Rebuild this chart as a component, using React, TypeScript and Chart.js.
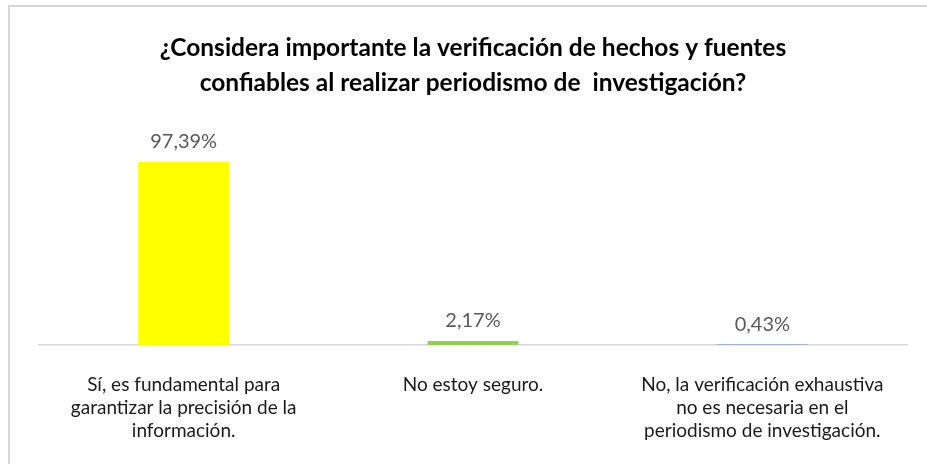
import React, { useEffect, useRef } from "react";
import { Chart, registerables } from "chart.js";

Chart.register(...registerables);

const TITLE_LINES = [
  "¿Considera importante la verificación de hechos y fuentes",
  "confiables al realizar periodismo de  investigación?",
];
const CATEGORIES: string[][] = [
  ["Sí, es fundamental para", "garantizar la precisión de la", "información."],
  ["No estoy seguro."],
  ["No, la verificación exhaustiva", "no es necesaria en el", "periodismo de investigación."],
];
const VALUES = [97.39, 2.17, 0.43];
const BAR_COLORS = ["#FFFF00", "#92D050", "#8FAADC"];

const FONT = "Lato, 'Open Sans', sans-serif";

const frame = {
  id: "frame",
  beforeDraw(chart: any) {
    const ctx = chart.ctx;
    ctx.save();
    ctx.fillStyle = "#ffffff";
    ctx.fillRect(0, 0, chart.width, chart.height);
    ctx.strokeStyle = "#d6d6d6";
    ctx.lineWidth = 2;
    ctx.beginPath();
    ctx.moveTo(9, chart.height);
    ctx.lineTo(9, 6);
    ctx.lineTo(chart.width, 6);
    ctx.stroke();
    ctx.restore();
  },
};

const valueLabels = {
  id: "valueLabels",
  afterDatasetsDraw(chart: any) {
    const ctx = chart.ctx;
    const meta = chart.getDatasetMeta(0);
    ctx.save();
    ctx.font = `20px ${FONT}`;
    ctx.fillStyle = "#595959";
    ctx.textAlign = "center";
    ctx.textBaseline = "middle";
    meta.data.forEach((bar: any, i: number) => {
      const txt = VALUES[i].toFixed(2).replace(".", ",") + "%";
      ctx.fillText(txt, bar.x, bar.y - 20);
    });
    ctx.restore();
  },
};

export default function App() {
  const ref = useRef<HTMLCanvasElement | null>(null);
  useEffect(() => {
    if (!ref.current) return;
    const chart = new Chart(ref.current, {
      type: "bar",
      data: {
        labels: CATEGORIES,
        datasets: [
          {
            data: VALUES,
            backgroundColor: BAR_COLORS,
            barPercentage: 0.314,
            categoryPercentage: 1,
          },
        ],
      },
      options: {
        animation: false,
        responsive: false,
        layout: { padding: { left: 39, right: 20, top: 0, bottom: 0 } },
        plugins: {
          legend: { display: false },
          tooltip: { enabled: false },
          title: {
            display: true,
            text: TITLE_LINES,
            color: "#000000",
            font: { family: FONT, size: 24.5, weight: "bold", lineHeight: 35 / 24.5 },
            padding: { top: 31, bottom: 56 },
          },
        },
        scales: {
          x: {
            grid: { display: false, drawTicks: false, tickLength: 0 },
            border: { display: true, color: "#d9d9d9", width: 1.5 },
            ticks: {
              color: "#1a1a1a",
              font: { family: FONT, size: 19, lineHeight: 23 / 19 },
              padding: 28,
              maxRotation: 0,
              autoSkip: false,
            },
            afterFit: (scale: any) => {
              scale.height = 119;
            },
          },
          y: {
            display: false,
            min: 0,
            max: 100,
          },
        },
      },
      plugins: [frame, valueLabels],
    });
    return () => chart.destroy();
  }, []);
  return (
    <div style={{ position: "absolute", left: 0, top: 0, width: 927, height: 464 }}>
      <canvas ref={ref} width={927} height={464} style={{ width: 927, height: 464, display: "block" }} />
    </div>
  );
}
